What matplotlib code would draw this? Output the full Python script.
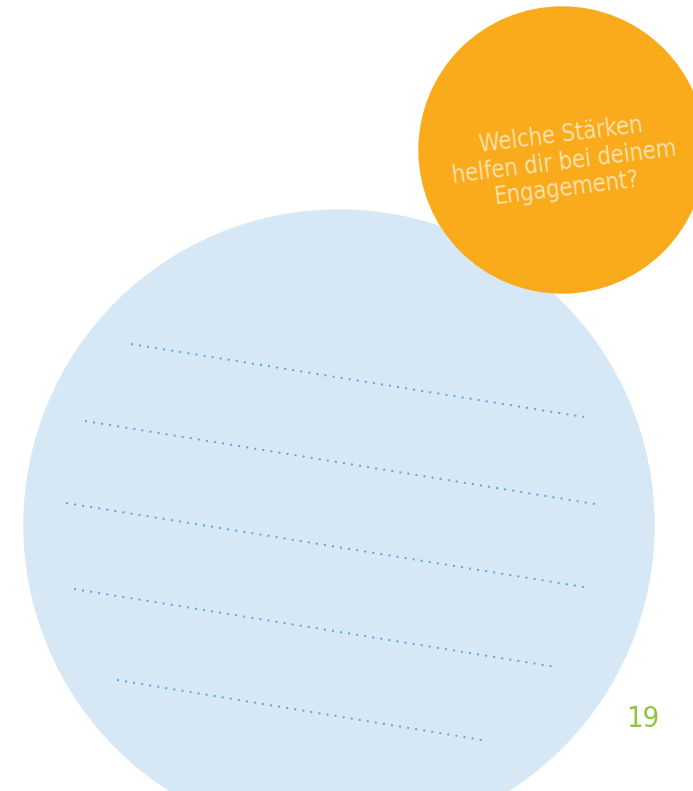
import matplotlib
matplotlib.use("Agg")
from matplotlib import pyplot as plt
from matplotlib.patches import Circle

# page geometry (pixels, y downwards)
W, H = 693, 791

blue_circle = (339, 525, 315)
orange_circle = (562, 150, 143)

question = "Welche Stärken\nhelfen dir bei deinem\nEngagement?"
page_number = "19"

# writing lines: (x0, y0, x1, y1)
line_starts_x = [131, 85, 66, 74, 117]
line_starts_y = [344, 421, 503, 589, 680]
line_ends_x = [584, 601, 590, 556, 482]
line_ends_y = [417, 505, 588, 667, 740]

fig = plt.figure(figsize=(W / 100, H / 100), dpi=100)
ax = fig.add_axes([0, 0, 1, 1])
ax.set_xlim(0, W)
ax.set_ylim(H, 0)
ax.set_aspect("equal")
ax.axis("off")

cx, cy, r = blue_circle
ax.add_patch(Circle((cx, cy), r, color="#d6e7f5", zorder=1))

for x0, y0, x1, y1 in zip(line_starts_x, line_starts_y, line_ends_x, line_ends_y):
    ax.plot([x0, x1], [y0, y1], color="#5ba3dd", lw=1.4, ls=(0, (1, 3.2)), zorder=2)

cx, cy, r = orange_circle
ax.add_patch(Circle((cx, cy), r, color="#f9ab1b", zorder=3))

ax.text(564, 162, question, color="#fce1ae", fontsize=17, rotation=7,
        ha="center", va="center", multialignment="center", linespacing=1.15,
        family="DejaVu Sans", stretch="condensed", zorder=4,
        rotation_mode="anchor")

ax.text(643, 719, page_number, color="#8dc63f", fontsize=21, ha="center", va="center",
        family="DejaVu Sans", stretch="condensed", zorder=4)

fig.savefig("out.png", dpi=100)
